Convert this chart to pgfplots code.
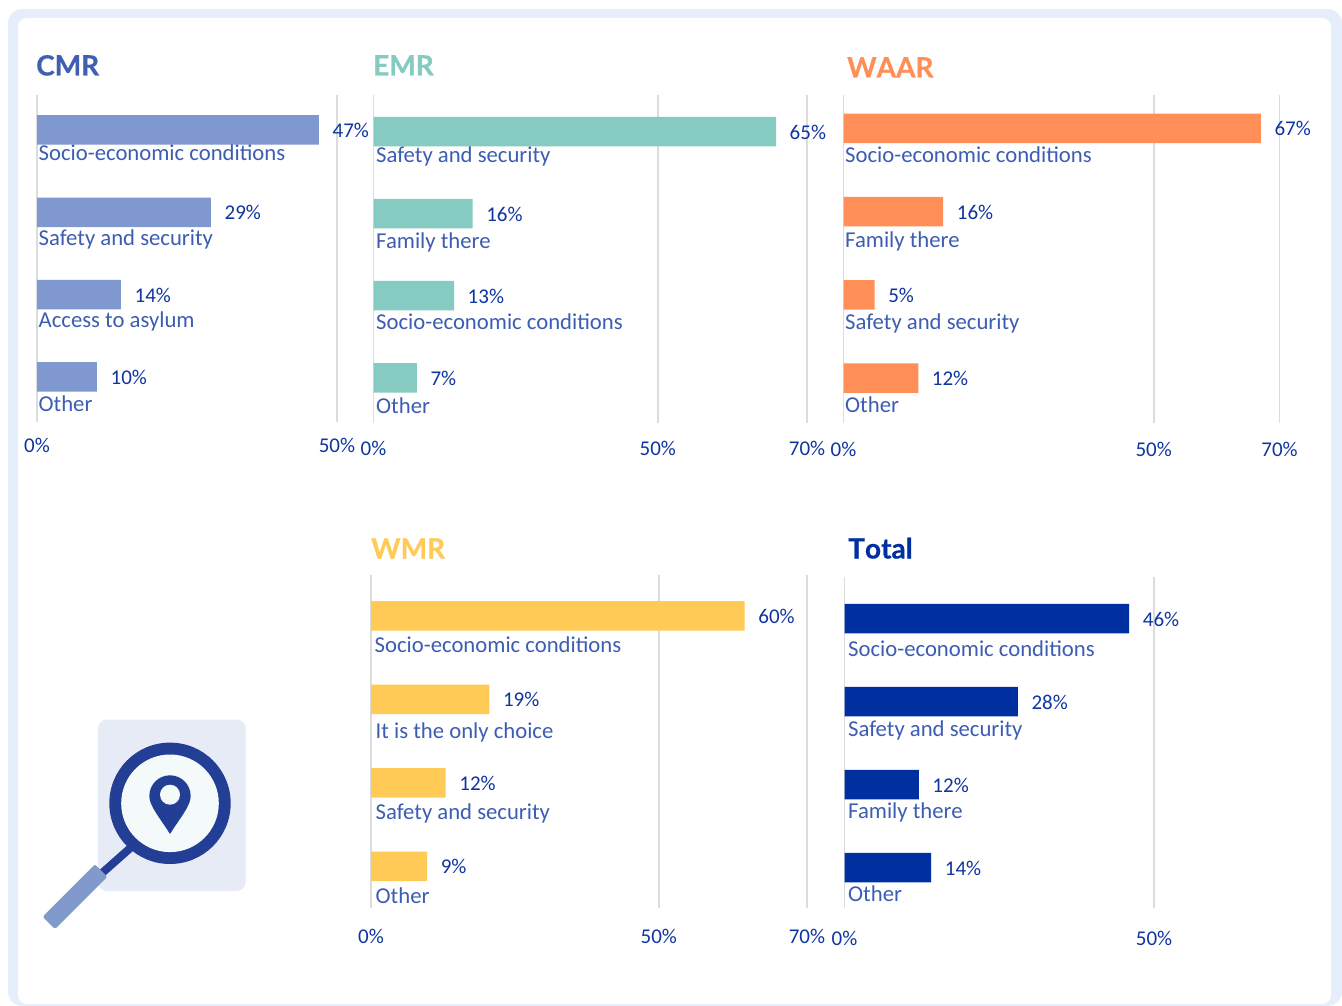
\documentclass[border=0pt]{standalone}
\usepackage{fontspec}
\setmainfont{Carlito}
\newfontfamily\ttlfont[Kerning=Off,BoldFeatures={FakeBold=0.5}]{Lato}
\usepackage{pgfplots}
\pgfplotsset{compat=1.18}
\definecolor{framec}{HTML}{E6EEFB}
\definecolor{gridc}{HTML}{DCDCDC}
\definecolor{catc}{HTML}{3D5DB2}
\definecolor{valc}{HTML}{0F35A0}
\definecolor{cmrbar}{HTML}{7F98D0}
\definecolor{cmrtxt}{HTML}{3F5FB0}
\definecolor{emrc}{HTML}{85CBC1}
\definecolor{waarc}{HTML}{FF8F57}
\definecolor{wmrc}{HTML}{FFCA55}
\definecolor{totc}{HTML}{002F9F}
\definecolor{icondark}{HTML}{233E95}
\definecolor{iconbg}{HTML}{E7EBF5}
\definecolor{iconglass}{HTML}{F4FAFA}
\definecolor{iconhandle}{HTML}{7F9ACB}
\newcommand{\lab}{\fontsize{22.7}{25}\selectfont}
\newcommand{\val}{\fontsize{21}{24}\selectfont}
\pgfplotsset{
  panel/.style={
    scale only axis,
    xbar, bar shift=0pt, bar width=29.5pt,
    y dir=reverse,
    xmin=0,
    clip=false,
    axis line style={draw=none},
    major tick length=0pt,
    ytick=\empty,
    xmajorgrids,
    grid style={gridc, line width=1.7pt},
    xticklabel style={inner sep=0pt, anchor=center, yshift=-#1pt, font=\val, text=valc},
    point meta=x,
    /pgf/number format/assume math mode=true,
    nodes near coords={\pgfmathprintnumber{\pgfplotspointmeta}\%},
    nodes near coords align={horizontal},
    every node near coord/.append style={anchor=west, inner sep=0pt, xshift=13.5pt, yshift=-0.5pt, font=\val, text=valc},
  },
  barstyle/.style={draw=none, fill=#1},
}
\tikzset{
  cat/.style={anchor=base west, inner sep=0pt, xshift=1.5pt, yshift=-30pt-#1pt, font=\lab, text=catc},
  ttl/.style={anchor=base west, inner sep=0pt, font=\fontsize{28}{30}\selectfont\ttlfont\bfseries},
}
\begin{document}
\begin{tikzpicture}
\useasboundingbox (0pt,0pt) rectangle (1342pt,-1006pt);
\begin{scope}[x=1pt,y=-1pt]
\fill[framec, rounded corners=14pt] (8,9) rectangle (1342,1006);
\fill[white, rounded corners=9pt] (18,18) rectangle (1331,1004);
% icon
\fill[iconbg, rounded corners=9pt] (98,719.5) rectangle (245.5,891);
\draw[icondark, line width=8pt] (132,846.5) -- (101,874);
\fill[iconhandle, rounded corners=2pt] (95,864.3) -- (107.3,876.7) -- (55,929) -- (42.7,916.7) -- cycle;
\fill[icondark] (170,803.3) circle (60.7);
\fill[iconglass] (170,803.3) circle (48.8);
\fill[icondark] (170,834) .. controls (160,818) and (149.3,806) .. (149.3,796)
  arc[start angle=180, end angle=360, radius=20.7]
  .. controls (190.7,806) and (180,818) .. (170,834) -- cycle;
\fill[iconglass] (170,794.7) circle (10);
% titles
\node[ttl, text=cmrtxt] at (36,75.5) {CMR};
\node[ttl, text=emrc] at (373,75.5) {EMR};
\node[ttl, text=waarc] at (847,77.5) {WAAR};
\node[ttl, text=wmrc] at (371,558.5) {WMR};
\node[ttl, text=totc] at (848,558.5) {Total};
\end{scope}

% CMR
\begin{axis}[panel=23, at={(37pt,-422pt)}, anchor=south west, width=300pt, height=327pt,
  xmax=50, ymin=-0.425, ymax=3.547, xtick={0,50}, xticklabels={0\%,50\%}]
\addplot[barstyle=cmrbar] coordinates {(47,0) (29,1) (14,2) (10,3)};
\node[cat=1] at (axis cs:0,0) {Socio-economic conditions};
\node[cat=3] at (axis cs:0,1) {Safety and security};
\node[cat=3] at (axis cs:0,2) {Access to asylum};
\node[cat=5] at (axis cs:0,3) {Other};
\end{axis}

% EMR (the 50% line stands left of its true place in the original)
\begin{axis}[panel=25, at={(373.5pt,-423pt)}, anchor=south west, width=433.5pt, height=328pt,
  xmax=70, ymin=-0.445, ymax=3.55, xtick={0,45.9,70}, xticklabels={0\%,50\%,70\%}]
\addplot[barstyle=emrc] coordinates {(65,0) (16,1) (13,2) (7,3)};
\node[cat=1, xshift=1pt] at (axis cs:0,0) {Safety and security};
\node[cat=5, xshift=1pt] at (axis cs:0,1) {Family there};
\node[cat=4, xshift=1pt] at (axis cs:0,2) {Socio-economic conditions};
\node[cat=6, xshift=1pt] at (axis cs:0,3) {Other};
\end{axis}

% WAAR
\begin{axis}[panel=26, at={(843.5pt,-423pt)}, anchor=south west, width=436pt, height=328pt,
  xmax=70, ymin=-0.40, ymax=3.54, xtick={0,49.8,70}, xticklabels={0\%,50\%,70\%}]
\addplot[barstyle=waarc] coordinates {(67,0) (16,1) (5,2) (12,3)};
\node[cat=4] at (axis cs:0,0) {Socio-economic conditions};
\node[cat=6] at (axis cs:0,1) {Family there};
\node[cat=5] at (axis cs:0,2) {Safety and security};
\node[cat=4] at (axis cs:0,3) {Other};
\end{axis}

% WMR
\begin{axis}[panel=28, at={(371pt,-908pt)}, anchor=south west, width=436pt, height=333pt,
  xmax=70, ymin=-0.49, ymax=3.50, xtick={0,46.2,70}, xticklabels={0\%,50\%,70\%}]
\addplot[barstyle=wmrc] coordinates {(60,0) (19,1) (12,2) (9,3)};
\node[cat=7, xshift=2pt] at (axis cs:0,0) {Socio-economic conditions};
\node[cat=9, xshift=3pt] at (axis cs:0,1) {It is the only choice};
\node[cat=7, xshift=3pt] at (axis cs:0,2) {Safety and security};
\node[cat=7, xshift=3pt] at (axis cs:0,3) {Other};
\end{axis}

% Total
\begin{axis}[panel=30, at={(844.5pt,-908pt)}, anchor=south west, width=309.5pt, height=331pt,
  xmax=50, ymin=-0.5, ymax=3.488, xtick={0,50}, xticklabels={0\%,50\%}]
\addplot[barstyle=totc] coordinates {(46,0) (28,1) (12,2) (14,3)};
\node[cat=8, xshift=2pt] at (axis cs:0,0) {Socio-economic conditions};
\node[cat=5, xshift=2pt] at (axis cs:0,1) {Safety and security};
\node[cat=4, xshift=2pt] at (axis cs:0,2) {Family there};
\node[cat=4, xshift=2pt] at (axis cs:0,3) {Other};
\end{axis}
\end{tikzpicture}
\end{document}
